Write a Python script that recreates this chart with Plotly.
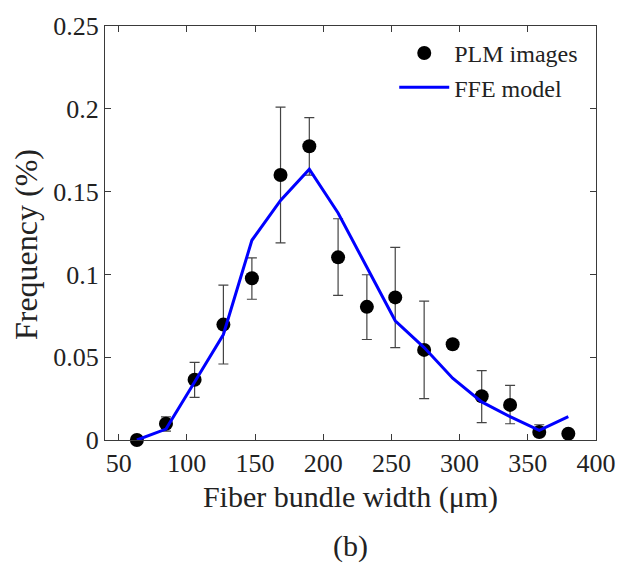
import plotly.graph_objects as go

# ---- data ----
width_um = [63.4, 84.7, 105.7, 126.8, 147.7, 168.7, 189.8, 210.9, 232.0, 252.8,
            274.0, 294.9, 316.2, 337.0, 358.4, 379.7]
plm_freq = [0.0, 0.0098, 0.0364, 0.0697, 0.0977, 0.160, 0.1774, 0.1103, 0.0804, 0.0861,
            0.0544, 0.0578, 0.0264, 0.0212, 0.0048, 0.0038]
plm_upper = [0.0, 0.014, 0.0469, 0.0935, 0.110, 0.201, 0.1947, 0.1336, 0.0998, 0.1163,
             0.0839, 0.0578, 0.0419, 0.033, 0.0092, 0.0038]
plm_lower = [0.0, 0.0054, 0.0257, 0.0459, 0.0850, 0.119, 0.160, 0.0873, 0.0607, 0.0558,
             0.025, 0.0578, 0.0105, 0.0098, 0.002, 0.0038]
ffe_freq = [0.0, 0.0066, 0.035, 0.0637, 0.1206, 0.1447, 0.1635, 0.1371, 0.1043, 0.0720,
            0.0558, 0.0373, 0.023, 0.0141, 0.0058, 0.0141]

x_ticks = [50, 100, 150, 200, 250, 300, 350, 400]
y_ticks = [0, 0.05, 0.1, 0.15, 0.2, 0.25]
y_ticktext = ["0", "0.05", "0.1", "0.15", "0.2", "0.25"]

err_plus = [u - v for u, v in zip(plm_upper, plm_freq)]
err_minus = [v - l for v, l in zip(plm_freq, plm_lower)]

FONT = "Liberation Serif"
AX = "#3a3a3a"

fig = go.Figure()
fig.add_trace(go.Scatter(
    x=width_um, y=plm_freq, mode="markers", name="PLM images",
    marker=dict(color="black", size=14),
    error_y=dict(type="data", symmetric=False, array=err_plus, arrayminus=err_minus,
                 color="#444444", thickness=1.2, width=5),
    cliponaxis=False,
))
fig.add_trace(go.Scatter(
    x=width_um, y=ffe_freq, mode="lines", name="FFE model",
    line=dict(color="#0000ff", width=3),
    cliponaxis=False,
))

fig.update_layout(
    width=628, height=563,
    margin=dict(l=105, r=29, t=21, b=123),
    paper_bgcolor="white", plot_bgcolor="white",
    font=dict(family=FONT, size=26, color="#222222"),
    showlegend=True,
    legend=dict(x=0.974, y=0.988, xanchor="right", yanchor="top",
                bgcolor="rgba(0,0,0,0)", font=dict(size=24, family=FONT),
                itemwidth=50, tracegroupgap=0),
    xaxis=dict(range=[40, 400], tickvals=x_ticks, ticks="inside", ticklen=6,
               tickcolor=AX, showline=True, linecolor=AX, linewidth=1.3, mirror="ticks",
               showgrid=False, zeroline=False,
               tickfont=dict(size=26, family=FONT),
               title=dict(text="Fiber bundle width (μm)", font=dict(size=30, family=FONT),
                          standoff=8)),
    yaxis=dict(range=[0, 0.25], tickvals=y_ticks, ticktext=y_ticktext, ticks="inside",
               ticklen=6, tickcolor=AX, showline=True, linecolor=AX, linewidth=1.3,
               mirror="ticks", showgrid=False, zeroline=False,
               tickfont=dict(size=26, family=FONT)),
    annotations=[
        dict(text="(b)", x=0.5, y=-0.255, xref="paper", yref="paper",
             xanchor="center", yanchor="middle", showarrow=False,
             font=dict(size=30, family=FONT)),
        dict(text="Frequency (%)", x=-0.162, y=0.472, xref="paper", yref="paper",
             xanchor="center", yanchor="middle", textangle=-90, showarrow=False,
             font=dict(size=32, family=FONT)),
    ],
)

fig.write_html("out.html")
